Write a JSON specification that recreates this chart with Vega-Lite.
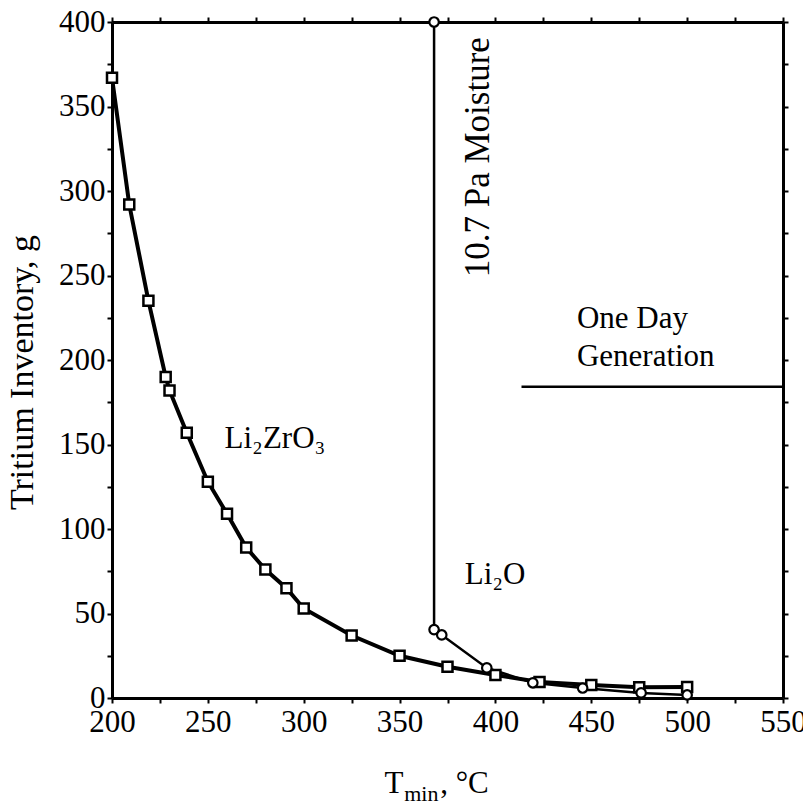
{
  "$schema": "https://vega.github.io/schema/vega-lite/v6.json",
  "width": 671,
  "height": 676,
  "autosize": "none",
  "padding": {"left": 112, "top": 22, "right": 20, "bottom": 108},
  "background": "white",
  "config": {
    "view": {"stroke": null},
    "font": "Liberation Serif",
    "axis": {
      "grid": false,
      "domainColor": "black",
      "domainWidth": 3,
      "tickColor": "black",
      "tickWidth": 2,
      "tickSize": 5,
      "labelColor": "black",
      "labelFont": "Liberation Serif",
      "labelFontSize": 31,
      "labelOverlap": false,
      "labelFlush": false,
      "titleFont": "Liberation Serif",
      "titleFontWeight": "normal",
      "titleColor": "black"
    }
  },
  "datasets": {
    "zr": [
      {"T": 200, "inv": 367},
      {"T": 209, "inv": 292},
      {"T": 219, "inv": 235},
      {"T": 228, "inv": 190},
      {"T": 230, "inv": 182},
      {"T": 239, "inv": 157},
      {"T": 250, "inv": 128},
      {"T": 260, "inv": 109},
      {"T": 270, "inv": 89},
      {"T": 280, "inv": 76},
      {"T": 291, "inv": 65},
      {"T": 300, "inv": 53},
      {"T": 325, "inv": 37},
      {"T": 350, "inv": 25},
      {"T": 375, "inv": 18.5},
      {"T": 400, "inv": 13.6},
      {"T": 423, "inv": 9.5},
      {"T": 450, "inv": 7.7},
      {"T": 475, "inv": 6.3},
      {"T": 500, "inv": 6.5}
    ],
    "li2o": [
      {"T": 368, "inv": 400},
      {"T": 368, "inv": 40.5},
      {"T": 372, "inv": 37.3},
      {"T": 395.5, "inv": 17.8},
      {"T": 419.5, "inv": 9},
      {"T": 445.5, "inv": 5.9},
      {"T": 476, "inv": 3},
      {"T": 500, "inv": 1.8}
    ],
    "gen": [
      {"T": 413.6, "inv": 184.2},
      {"T": 550, "inv": 184.2}
    ],
    "labels": [
      {"T": 258.7, "inv": 153, "text": "Li₂ZrO₃"},
      {"T": 384, "inv": 73, "text": "Li₂O"}
    ],
    "onedayA": [
      {"T": 442.5, "inv": 224.5, "text": "One Day"}
    ],
    "onedayB": [
      {"T": 442.5, "inv": 202, "text": "Generation"}
    ],
    "moist": [
      {"T": 390.8, "inv": 320, "text": "10.7 Pa Moisture"}
    ],
    "xtitleT": [
      {"T": 342.2, "inv": -56.2, "text": "T"}
    ],
    "xtitleSub": [
      {"T": 352.4, "inv": -61, "text": "min"}
    ],
    "xtitleUnit": [
      {"T": 371.2, "inv": -56.2, "text": ", °C"}
    ]
  },
  "layer": [
    {
      "data": {"name": "zr"},
      "mark": {"type": "line", "color": "black", "strokeWidth": 4, "clip": true},
      "encoding": {
        "x": {
          "field": "T", "type": "quantitative",
          "scale": {"domain": [200, 550], "nice": false, "zero": false},
          "axis": {
            "orient": "bottom",
            "values": [200, 225, 250, 275, 300, 325, 350, 375, 400, 425, 450, 475, 500, 525, 550],
            "labelExpr": "datum.value % 50 === 0 ? datum.label : ''",
            "labelPadding": 4,
            "title": null
          }
        },
        "y": {
          "field": "inv", "type": "quantitative",
          "scale": {"domain": [0, 400], "nice": false},
          "axis": {
            "orient": "left",
            "values": [0, 25, 50, 75, 100, 125, 150, 175, 200, 225, 250, 275, 300, 325, 350, 375, 400],
            "labelExpr": "datum.value % 50 === 0 ? datum.label : ''",
            "labelPadding": 2,
            "title": "Tritium Inventory, g",
            "titleFontSize": 34,
            "titleX": -90,
            "titleY": 350,
            "titleBaseline": "middle"
          }
        }
      }
    },
    {
      "data": {"name": "li2o"},
      "mark": {"type": "line", "color": "black", "strokeWidth": 2.5, "clip": true},
      "encoding": {
        "x": {"field": "T", "type": "quantitative", "axis": null},
        "y": {"field": "inv", "type": "quantitative", "axis": null}
      }
    },
    {
      "data": {"name": "zr"},
      "mark": {"type": "point", "shape": "square", "filled": false, "fill": "white", "fillOpacity": 1, "stroke": "black", "strokeWidth": 2.5, "size": 100, "opacity": 1},
      "encoding": {
        "x": {"field": "T", "type": "quantitative", "axis": null},
        "y": {"field": "inv", "type": "quantitative", "axis": null}
      }
    },
    {
      "data": {"name": "li2o"},
      "mark": {"type": "point", "shape": "circle", "filled": false, "fill": "white", "fillOpacity": 1, "stroke": "black", "strokeWidth": 2.2, "size": 90, "opacity": 1},
      "encoding": {
        "x": {"field": "T", "type": "quantitative", "axis": null},
        "y": {"field": "inv", "type": "quantitative", "axis": null}
      }
    },
    {
      "data": {"name": "gen"},
      "mark": {"type": "line", "color": "black", "strokeWidth": 2.5},
      "encoding": {
        "x": {"field": "T", "type": "quantitative", "axis": null},
        "y": {"field": "inv", "type": "quantitative", "axis": null}
      }
    },
    {
      "data": {"name": "labels"},
      "mark": {"type": "text", "font": "Liberation Serif", "fontSize": 31, "align": "left", "baseline": "middle", "color": "black"},
      "encoding": {
        "x": {"field": "T", "type": "quantitative", "axis": null},
        "y": {"field": "inv", "type": "quantitative", "axis": null},
        "text": {"field": "text"}
      }
    },
    {
      "data": {"name": "onedayA"},
      "mark": {"type": "text", "font": "Liberation Serif", "fontSize": 31, "align": "left", "baseline": "middle", "color": "black"},
      "encoding": {
        "x": {"field": "T", "type": "quantitative", "axis": null},
        "y": {"field": "inv", "type": "quantitative", "axis": null},
        "text": {"field": "text"}
      }
    },
    {
      "data": {"name": "onedayB"},
      "mark": {"type": "text", "font": "Liberation Serif", "fontSize": 31, "align": "left", "baseline": "middle", "color": "black"},
      "encoding": {
        "x": {"field": "T", "type": "quantitative", "axis": null},
        "y": {"field": "inv", "type": "quantitative", "axis": null},
        "text": {"field": "text"}
      }
    },
    {
      "data": {"name": "moist"},
      "mark": {"type": "text", "font": "Liberation Serif", "fontSize": 35, "align": "center", "baseline": "middle", "angle": 270, "color": "black"},
      "encoding": {
        "x": {"field": "T", "type": "quantitative", "axis": null},
        "y": {"field": "inv", "type": "quantitative", "axis": null},
        "text": {"field": "text"}
      }
    },
    {
      "data": {"name": "xtitleT"},
      "mark": {"type": "text", "font": "Liberation Serif", "fontSize": 31, "align": "left", "baseline": "alphabetic", "color": "black"},
      "encoding": {
        "x": {"field": "T", "type": "quantitative", "axis": null},
        "y": {"field": "inv", "type": "quantitative", "axis": null},
        "text": {"field": "text"}
      }
    },
    {
      "data": {"name": "xtitleSub"},
      "mark": {"type": "text", "font": "Liberation Serif", "fontSize": 22, "align": "left", "baseline": "alphabetic", "color": "black"},
      "encoding": {
        "x": {"field": "T", "type": "quantitative", "axis": null},
        "y": {"field": "inv", "type": "quantitative", "axis": null},
        "text": {"field": "text"}
      }
    },
    {
      "data": {"name": "xtitleUnit"},
      "mark": {"type": "text", "font": "Liberation Serif", "fontSize": 31, "align": "left", "baseline": "alphabetic", "color": "black"},
      "encoding": {
        "x": {"field": "T", "type": "quantitative", "axis": null},
        "y": {"field": "inv", "type": "quantitative", "axis": null},
        "text": {"field": "text"}
      }
    },
    {
      "data": {"name": "gen"},
      "mark": {"type": "point", "opacity": 0},
      "encoding": {
        "x": {
          "field": "T", "type": "quantitative",
          "axis": {
            "orient": "top",
            "values": [200, 225, 250, 275, 300, 325, 350, 375, 400, 425, 450, 475, 500, 525, 550],
            "labels": false,
            "title": null
          }
        },
        "y": {
          "field": "inv", "type": "quantitative",
          "axis": {
            "orient": "right",
            "values": [0, 25, 50, 75, 100, 125, 150, 175, 200, 225, 250, 275, 300, 325, 350, 375, 400],
            "labels": false,
            "title": null
          }
        }
      }
    }
  ],
  "resolve": {"axis": {"x": "independent", "y": "independent"}}
}
